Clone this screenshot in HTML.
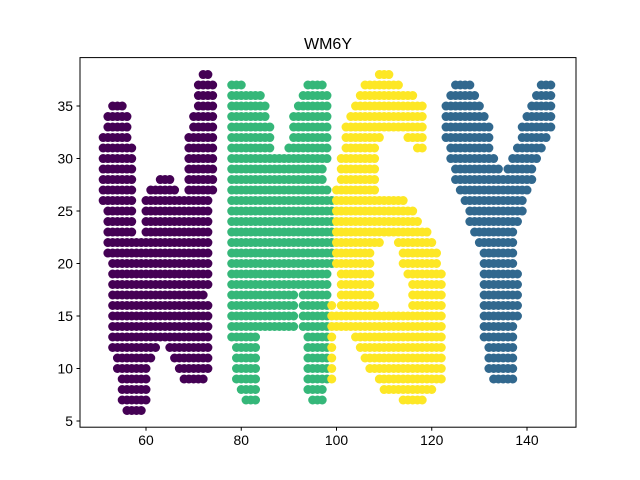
<!DOCTYPE html>
<html><head><meta charset="utf-8"><style>
html,body{margin:0;padding:0;background:#fff;}
svg{display:block;font-family:"Liberation Sans","DejaVu Sans",sans-serif;}
</style></head><body>
<svg id="chart" width="640" height="480" viewBox="0 0 640 480">
<rect x="0" y="0" width="640" height="480" fill="#fff"/>
<text x="328" y="49" text-anchor="middle" font-size="16">WM6Y</text>
<g id="marks"></g>
<rect x="80" y="57.6" width="496" height="369.6" fill="none" stroke="#000" stroke-width="1"/>
<g id="xaxis"></g>
<g id="yaxis"></g>
</svg>
<script>
// rows: [y, xStart, xEnd] (inclusive, unit step)
const letterW = [[38,72,73],[37,71,74],[36,71,74],[35,53,55],[35,71,74],[34,52,56],[34,70,74],[33,52,56],[33,70,74],[32,51,56],[32,69,74],[31,51,57],[31,69,74],[30,51,57],[30,69,74],[29,51,57],[29,69,74],[28,51,57],[28,63,65],[28,69,74],[27,51,57],[27,61,66],[27,69,74],[26,51,57],[26,60,73],[25,52,57],[25,60,73],[24,52,57],[24,60,73],[23,52,57],[23,60,73],[22,52,73],[21,52,73],[20,53,73],[19,53,73],[18,53,73],[17,53,72],[16,53,73],[15,53,73],[14,53,73],[13,53,73],[12,53,62],[12,65,73],[11,54,61],[11,66,73],[10,54,60],[10,67,73],[9,55,60],[9,68,72],[8,55,60],[7,55,60],[6,56,59]];
const letterM = [[37,78,80],[37,94,97],[36,78,84],[36,93,98],[35,78,85],[35,92,98],[34,78,85],[34,91,98],[33,78,86],[33,91,98],[32,78,86],[32,91,98],[31,78,86],[31,90,98],[30,78,98],[29,78,97],[28,78,97],[27,78,98],[26,78,99],[25,78,99],[24,78,99],[23,78,99],[22,78,99],[21,78,99],[20,78,99],[19,78,98],[18,78,98],[17,78,91],[17,93,98],[16,78,91],[16,93,98],[15,78,91],[15,93,98],[14,78,91],[14,93,98],[13,78,83],[13,94,98],[12,79,83],[12,94,98],[11,79,83],[11,94,98],[10,79,83],[10,94,98],[9,79,83],[9,94,98],[8,80,83],[8,94,97],[7,81,83],[7,95,97]];
const letter6 = [[38,109,111],[37,106,113],[36,105,116],[35,104,118],[34,103,118],[33,102,118],[32,102,109],[32,115,118],[31,102,108],[31,117,118],[30,101,108],[29,101,108],[28,101,108],[27,100,108],[26,100,114],[25,100,116],[24,100,117],[23,100,119],[22,100,109],[22,113,120],[21,100,107],[21,114,121],[20,100,107],[20,114,121],[19,101,107],[19,115,122],[18,101,107],[18,116,122],[17,101,107],[17,116,122],[16,99,99],[16,101,108],[16,116,122],[15,99,122],[14,99,122],[13,99,99],[13,104,122],[12,99,99],[12,105,122],[11,99,99],[11,106,122],[10,99,99],[10,107,122],[9,99,99],[9,109,122],[8,110,120],[7,114,118]];
const letterY = [[37,125,128],[37,143,145],[36,124,129],[36,142,145],[35,123,130],[35,141,145],[34,123,131],[34,140,145],[33,123,132],[33,139,145],[32,123,132],[32,139,144],[31,124,132],[31,138,143],[30,124,133],[30,137,142],[29,125,134],[29,136,141],[28,125,141],[27,126,140],[26,127,139],[25,128,139],[24,128,138],[23,129,137],[22,130,137],[21,131,137],[20,131,137],[19,131,138],[18,131,138],[17,131,138],[16,131,138],[15,131,138],[14,131,137],[13,131,137],[12,132,137],[11,132,137],[10,132,137],[9,133,137]];
const seriesNames = ['letter-w','letter-m','letter-6','letter-y'];
const seriesColors = ['#440154','#35b779','#fde725','#31688e'];
const xTicks = [60,80,100,120,140];
const yTicks = [5,10,15,20,25,30,35];

const X0=80, X1=576, Y0=57.6, Y1=427.2;
const xMin=46.14, xMax=150.29, yMin=4.41, yMax=39.61;
function sx(v){return X0+(v-xMin)/(xMax-xMin)*(X1-X0);}
function sy(v){return Y1-(v-yMin)/(yMax-yMin)*(Y1-Y0);}
const NS='http://www.w3.org/2000/svg';
const marks=document.getElementById('marks');
[letterW,letterM,letter6,letterY].forEach((rows,i)=>{
  const g=document.createElementNS(NS,'g');
  
  
  g.setAttribute('fill', seriesColors[i]);
  rows.forEach(r=>{
    for(let x=r[1];x<=r[2];x++){
      const c=document.createElementNS(NS,'circle');
      c.setAttribute('cx',sx(x).toFixed(2));
      c.setAttribute('cy',sy(r[0]).toFixed(2));
      c.setAttribute('r','4.5');
      
      
      g.appendChild(c);
    }
  });
  marks.appendChild(g);
});
const xa=document.getElementById('xaxis');
xTicks.forEach(t=>{
  const l=document.createElementNS(NS,'line');
  l.setAttribute('x1',sx(t));l.setAttribute('x2',sx(t));
  l.setAttribute('y1',Y1);l.setAttribute('y2',Y1+3.5);
  l.setAttribute('stroke','#000');
  
  
  xa.appendChild(l);
  const tx=document.createElementNS(NS,'text');
  tx.setAttribute('x',sx(t));tx.setAttribute('y',Y1+18);
  tx.setAttribute('text-anchor','middle');tx.setAttribute('font-size','13.9');
  tx.textContent=t;
  
  
  xa.appendChild(tx);
});
const ya=document.getElementById('yaxis');
yTicks.forEach(t=>{
  const l=document.createElementNS(NS,'line');
  l.setAttribute('x1',X0-3.5);l.setAttribute('x2',X0);
  l.setAttribute('y1',sy(t));l.setAttribute('y2',sy(t));
  l.setAttribute('stroke','#000');
  
  
  ya.appendChild(l);
  const tx=document.createElementNS(NS,'text');
  tx.setAttribute('x',X0-7);tx.setAttribute('y',sy(t)+5);
  tx.setAttribute('text-anchor','end');tx.setAttribute('font-size','13.9');
  tx.textContent=t;
  
  
  ya.appendChild(tx);
});
</script>
</body></html>
